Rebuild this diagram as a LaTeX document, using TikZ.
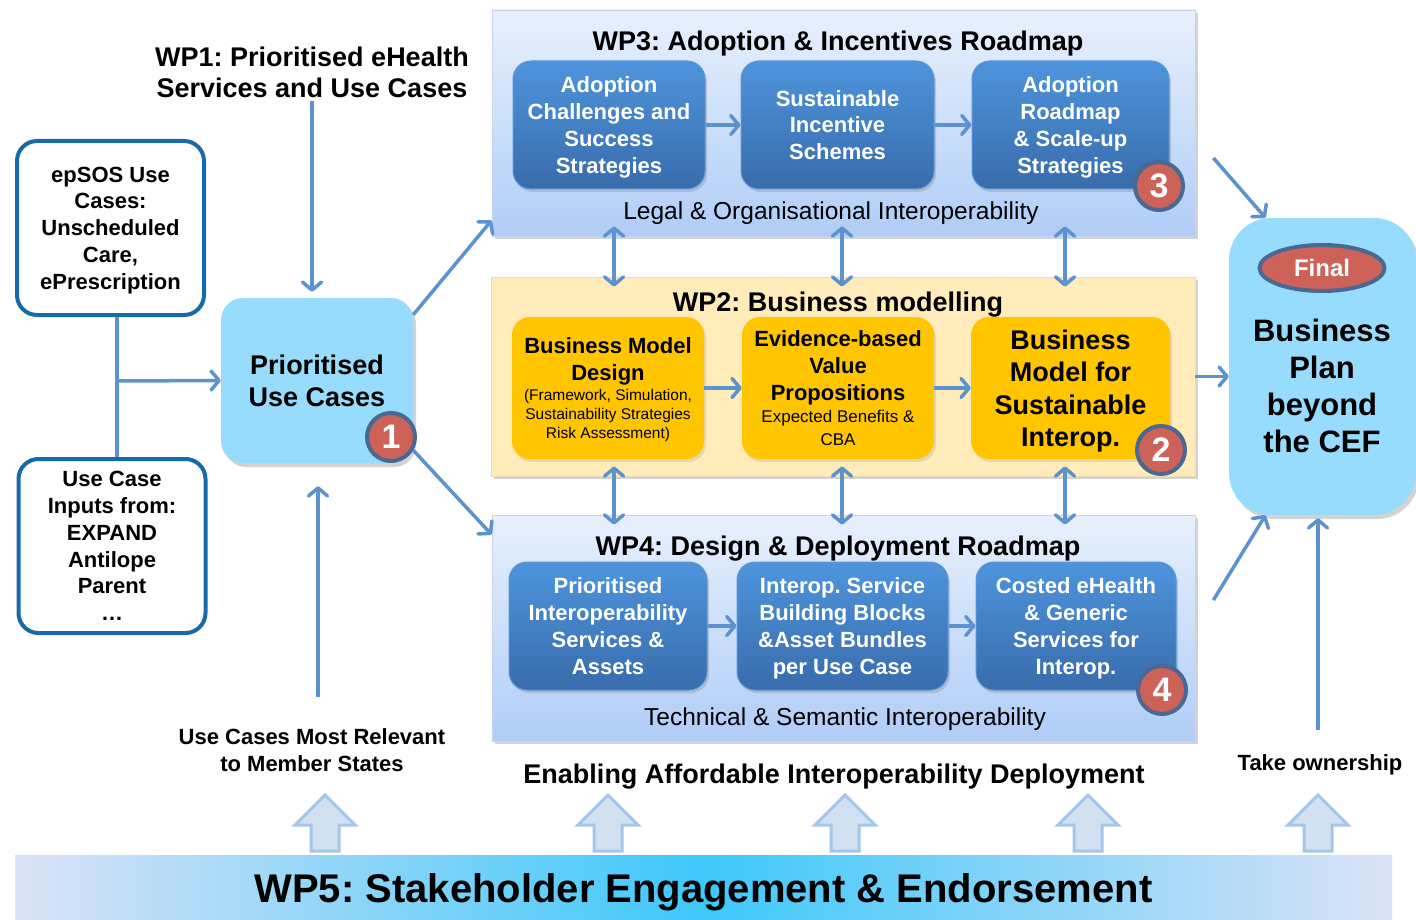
\documentclass[tikz,border=0pt]{standalone}
\usepackage{fontspec}
\setmainfont{Liberation Sans}
\frenchspacing
\usetikzlibrary{arrows.meta,shadows,shapes.geometric}
\definecolor{arrowblue}{RGB}{92,146,206}
\definecolor{paneltop}{RGB}{232,240,253}
\definecolor{panelbot}{RGB}{176,205,247}
\definecolor{panelline}{RGB}{196,212,238}
\definecolor{innertop}{RGB}{78,148,220}
\definecolor{innerbot}{RGB}{56,108,172}
\definecolor{innerline}{RGB}{90,150,214}
\definecolor{ypanel}{RGB}{255,236,186}
\definecolor{gold}{RGB}{255,198,0}
\definecolor{skyblue}{RGB}{151,220,253}
\definecolor{srcblue}{RGB}{22,108,168}
\definecolor{badgered}{RGB}{204,98,88}
\definecolor{badgeedge}{RGB}{74,104,148}
\definecolor{hollowfill}{RGB}{210,225,242}
\definecolor{hollowedge}{RGB}{164,198,234}
\definecolor{lav}{RGB}{218,226,246}
\definecolor{cyanbar}{RGB}{62,200,250}
\begin{document}
\begin{tikzpicture}[x=1pt,y=-1pt,
    link/.style={draw=arrowblue,line width=3.5pt,-{Straight Barb[round,length=8pt,width=19pt]}},
    dlink/.style={draw=arrowblue,line width=3.5pt,{Straight Barb[round,length=8pt,width=19pt]}-{Straight Barb[round,length=8pt,width=19pt]},shorten <=-10pt,shorten >=-10pt},
    wire/.style={draw=arrowblue,line width=3.5pt},
    wppanel/.style={rectangle,draw=panelline,line width=0.8pt,top color=paneltop,bottom color=panelbot,drop shadow={shadow xshift=3pt,shadow yshift=-3pt,opacity=.35}},
    ypanel/.style={rectangle,draw=ypanel!85!gray,line width=0.8pt,fill=ypanel,drop shadow={shadow xshift=3pt,shadow yshift=-3pt,opacity=.35}},
    blubox/.style={rectangle,rounded corners=18pt,draw=innerline,line width=1pt,top color=innertop,bottom color=innerbot,text=white,align=center,text depth=0pt,font=\fontsize{22}{26.8}\selectfont\bfseries,drop shadow={shadow xshift=2pt,shadow yshift=-3pt,opacity=.3}},
    ybox/.style={rectangle,rounded corners=18pt,fill=gold,align=center,text depth=0pt,font=\fontsize{22}{26.8}\selectfont\bfseries,drop shadow={shadow xshift=2pt,shadow yshift=-3pt,opacity=.2}},
    srcbox/.style={rectangle,rounded corners=20pt,draw=srcblue,line width=4pt,fill=white,minimum width=187pt,minimum height=174pt,align=center,text depth=0pt,font=\fontsize{22}{26.8}\selectfont\bfseries},
    skybox/.style={rectangle,fill=skyblue,align=center,text depth=0pt,font=\fontsize{27}{32}\selectfont\bfseries,drop shadow={shadow xshift=3pt,shadow yshift=-4pt,opacity=.35}},
    badge/.style={circle,draw=badgeedge,line width=4pt,fill=badgered,text=white,minimum size=48pt,inner sep=0pt,font=\fontsize{34}{34}\selectfont\bfseries},
    finaltag/.style={ellipse,draw=badgeedge,line width=4pt,fill=badgered,text=white,minimum width=125pt,minimum height=46pt,text depth=0pt,font=\fontsize{24}{24}\selectfont\bfseries},
    wphead/.style={align=center,text depth=0pt,font=\fontsize{27}{31}\selectfont\bfseries},
    wpsub/.style={text depth=0pt,font=\fontsize{24.5}{28}\selectfont},
    wpnote/.style={align=center,text depth=0pt,font=\fontsize{22}{27}\selectfont\bfseries},
    hollow/.style={draw=hollowedge,line width=3pt,fill=hollowfill},
    band/.style={rectangle,minimum width=1377pt,minimum height=65pt,left color=lav,right color=lav,middle color=cyanbar,text depth=0pt,font=\fontsize{40}{44}\selectfont\bfseries}]
  \useasboundingbox (0,0) rectangle (1416,920);
  \node[wppanel,minimum width=703pt,minimum height=226pt] (wp3) at (843.5,123) {};
  \node[ypanel,minimum width=704pt,minimum height=199pt] (wp2) at (843,376.5) {};
  \node[wppanel,minimum width=703pt,minimum height=226pt] (wp4) at (843.5,628) {};
  \node[wphead] (t3) at (838,41) {WP3: Adoption \& Incentives Roadmap};
  \node[blubox,minimum width=192pt,minimum height=128pt] (a3) at (609,125) {Adoption\\Challenges and\\Success\\Strategies};
  \node[blubox,minimum width=193pt,minimum height=128pt] (b3) at (837.5,125) {Sustainable\\Incentive\\Schemes};
  \node[blubox,minimum width=197pt,minimum height=128pt] (c3) at (1070.5,125) {Adoption\\Roadmap\\\& Scale-up\\Strategies};
  \node[wpsub] (l3) at (831,211) {Legal \& Organisational Interoperability};
  \node[badge] (n3) at (1159,186) {3};
  \node[wphead] (t2) at (838,302) {WP2: Business modelling};
  \node[ybox,minimum width=192pt,minimum height=142pt] (a2) at (608,388) {Business Model\\Design\\[-7pt]\mdseries\fontsize{15.5}{18.5}\selectfont(Framework, Simulation,\\[-8pt]\mdseries\fontsize{15.5}{18.5}\selectfont Sustainability Strategies\\[-7.5pt]\mdseries\fontsize{15.5}{18.5}\selectfont Risk Assessment)};
  \node[ybox,minimum width=192pt,minimum height=142pt] (b2) at (838,388) {Evidence-based\\Value\\Propositions\\[-4.5pt]\mdseries\fontsize{17}{20}\selectfont Expected Benefits \&\\[-4.5pt]\mdseries\fontsize{17}{20}\selectfont CBA};
  \node[ybox,minimum width=199pt,minimum height=142pt,font=\fontsize{27}{32.5}\selectfont\bfseries] (c2) at (1070.5,388) {Business\\Model for\\Sustainable\\Interop.};
  \node[badge] (n2) at (1161,450) {2};
  \node[wphead] (t4) at (838,546) {WP4: Design \& Deployment Roadmap};
  \node[blubox,minimum width=198pt,minimum height=128pt] (a4) at (608,626) {Prioritised\\Interoperability\\Services \&\\Assets};
  \node[blubox,minimum width=211pt,minimum height=128pt] (b4) at (842.5,626) {Interop. Service\\Building Blocks\\\&Asset Bundles\\per Use Case};
  \node[blubox,minimum width=200pt,minimum height=128pt] (c4) at (1076,626) {Costed eHealth\\\& Generic\\Services for\\Interop.};
  \node[wpsub] (l4) at (845,717) {Technical \& Semantic Interoperability};
  \node[badge] (n4) at (1162,690) {4};
  \node[srcbox] (epsos) at (110.5,228) {epSOS Use\\Cases:\\Unscheduled\\Care,\\ePrescription};
  \node[srcbox] (usecase) at (112,546) {Use Case\\Inputs from:\\EXPAND\\Antilope\\Parent\\\ldots};
  \node[skybox,rounded corners=22pt,minimum width=192pt,minimum height=165pt] (prio) at (317,380.5) {Prioritised\\Use Cases};
  \node[badge] (n1) at (391,437) {1};
  \node[wphead] (wp1) at (312,72) {WP1: Prioritised eHealth\\Services and Use Cases};
  \node[wpnote] (rel) at (312,750) {Use Cases Most Relevant\\to Member States};
  \node[wphead] (enab) at (834,774) {Enabling Affordable Interoperability Deployment};
  \node[wpnote] (own) at (1320,763) {Take ownership};
  \node[skybox,rounded corners=42pt,minimum width=187pt,minimum height=297pt] (final) at (1322.5,366.5) {};
  \node[finaltag] (fin) at (1322,268) {Final};
  \node[align=center,text depth=0pt,font=\fontsize{31}{37}\selectfont\bfseries] (plan) at (1322,386) {Business\\Plan\\beyond\\the CEF};
  \node[band] (wp5) at (703.5,887.5) {WP5: Stakeholder Engagement \& Endorsement};
  \coordinate (jn) at (117,381);
  \coordinate (rel0) at (318,697);
  \coordinate (own0) at (1318,730);
  \draw[link] (a3) -- (b3);
  \draw[link] (b3) -- (c3);
  \draw[link] (a2) -- (b2);
  \draw[link] (b2) -- (c2);
  \draw[link] (a4) -- (b4);
  \draw[link] (b4) -- (c4);
  \draw[dlink] ([xshift=5pt]a3 |- wp3.south) -- ([xshift=5pt]a3 |- wp2.north);
  \draw[dlink] ([xshift=4.5pt]b3 |- wp3.south) -- ([xshift=4.5pt]b3 |- wp2.north);
  \draw[dlink] ([xshift=-5.5pt]c3 |- wp3.south) -- ([xshift=-5.5pt]c3 |- wp2.north);
  \draw[dlink] ([xshift=5pt]a3 |- wp2.south) -- ([xshift=5pt]a3 |- wp4.north);
  \draw[dlink] ([xshift=4.5pt]b3 |- wp2.south) -- ([xshift=4.5pt]b3 |- wp4.north);
  \draw[dlink] ([xshift=-5.5pt]c3 |- wp2.south) -- ([xshift=-5.5pt]c3 |- wp4.north);
  \draw[wire] (epsos.south -| jn) -- (usecase.north -| jn);
  \draw[link] (jn) -- (prio.west);
  \draw[link,shorten >=6pt] (wp1) -- (wp1 |- prio.north);
  \draw[link,shorten >=23pt] (rel0) -- (rel0 |- prio.south);
  \draw[link] ([yshift=-17pt]prio.north east) -- ([yshift=16pt]wp3.south west);
  \draw[link] ([yshift=13pt]prio.south east) -- ([yshift=-20pt]wp4.north west);
  \draw[link] ([xshift=18pt,yshift=-35pt]wp3.east) -- ([xshift=-57pt]final.north);
  \draw[link] (wp2.east) -- (wp2.east -| final.west);
  \draw[link] ([xshift=18pt,yshift=28pt]wp4.east) -- ([xshift=-57pt]final.south);
  \draw[link,shorten >=3pt] (own0) -- (own0 |- final.south);
  \draw[hollow] (325,795) -- ++(30,30) -- ++(-16,0) -- ++(0,26) -- ++(-28,0) -- ++(0,-26) -- ++(-16,0) -- cycle;
  \draw[hollow] (608,795) -- ++(30,30) -- ++(-16,0) -- ++(0,26) -- ++(-28,0) -- ++(0,-26) -- ++(-16,0) -- cycle;
  \draw[hollow] (845,795) -- ++(30,30) -- ++(-16,0) -- ++(0,26) -- ++(-28,0) -- ++(0,-26) -- ++(-16,0) -- cycle;
  \draw[hollow] (1088,795) -- ++(30,30) -- ++(-16,0) -- ++(0,26) -- ++(-28,0) -- ++(0,-26) -- ++(-16,0) -- cycle;
  \draw[hollow] (1318,795) -- ++(30,30) -- ++(-16,0) -- ++(0,26) -- ++(-28,0) -- ++(0,-26) -- ++(-16,0) -- cycle;
\end{tikzpicture}
\end{document}
